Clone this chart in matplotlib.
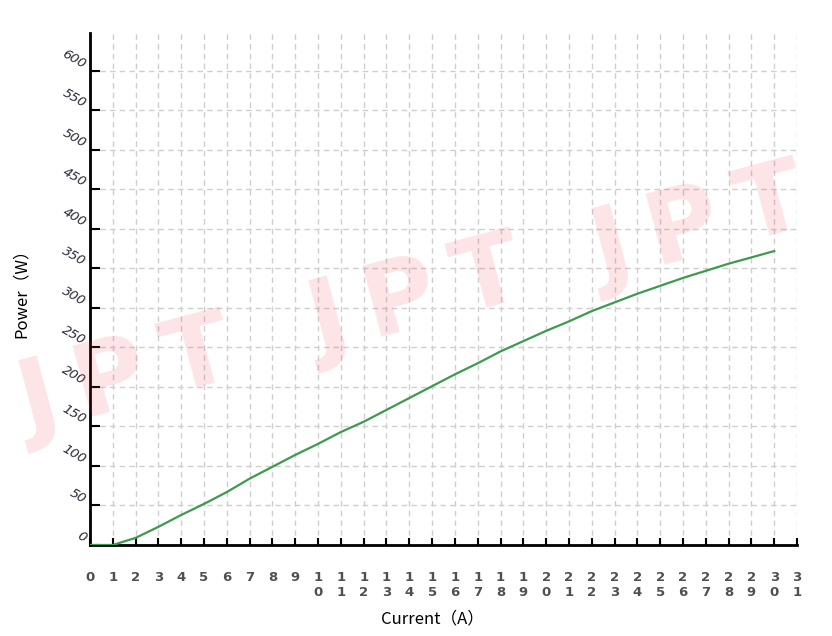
import matplotlib
matplotlib.use("Agg")
import matplotlib.pyplot as plt

# Data
current = list(range(0, 31))
power = [0, 0, 9, 23, 38, 52, 67, 84, 99, 114,
         128, 143, 156, 171, 186, 201, 216, 230, 245, 258,
         271, 283, 296, 307, 318, 328, 338, 347, 356, 364, 372]

x_ticks = list(range(0, 32))
x_tick_labels = ["\n".join(str(v)) for v in x_ticks]
y_ticks = list(range(0, 601, 50))

fig = plt.figure(figsize=(8.32, 6.36), dpi=100)
ax = fig.add_axes([90 / 832, 1 - 545 / 636, 707 / 832, 512 / 636])

ax.plot(current, power, color="#3c9b4c", linewidth=1.6, zorder=3)

ax.set_xlim(0, 31)
ax.set_ylim(0, 648)

ax.set_xticks(x_ticks)
ax.set_xticklabels(x_tick_labels, fontsize=9.5, fontweight="bold",
                   color="#505050", linespacing=1.2)
ax.set_yticks(y_ticks)
ax.set_yticklabels([str(v) for v in y_ticks], fontsize=9.5, style="italic",
                   color="#2a2a3a", rotation=-30, rotation_mode="anchor",
                   ha="right", va="bottom")

ax.tick_params(axis="x", direction="in", length=5, width=1.5, pad=19)
ax.tick_params(axis="y", direction="in", length=7, width=1.5, pad=6)

for s in ["top", "right"]:
    ax.spines[s].set_visible(False)
for s in ["left", "bottom"]:
    ax.spines[s].set_linewidth(2)
    ax.spines[s].set_color("black")

ax.grid(True, color="#cfcfcf", linestyle=(0, (4, 3)), linewidth=1)
ax.set_axisbelow(True)

ax.set_xlabel("Current（A）", fontsize=12, family=["Noto Sans CJK SC", "DejaVu Sans"])
ax.xaxis.set_label_coords(0.484, -0.128)
ax.set_ylabel("Power（W）", fontsize=12, family=["Noto Sans CJK SC", "DejaVu Sans"])
ax.yaxis.set_label_coords(-0.085, 0.5)

# watermark
for wx, wy in [(127, 380), (417, 300), (700, 228)]:
    fig.text(wx / 832, 1 - wy / 636, "J\u2009P\u2009T", fontsize=72, fontweight="bold",
             color="#f03040", alpha=0.13, rotation=15,
             ha="center", va="center", zorder=10)

fig.savefig("out.png", dpi=100)
